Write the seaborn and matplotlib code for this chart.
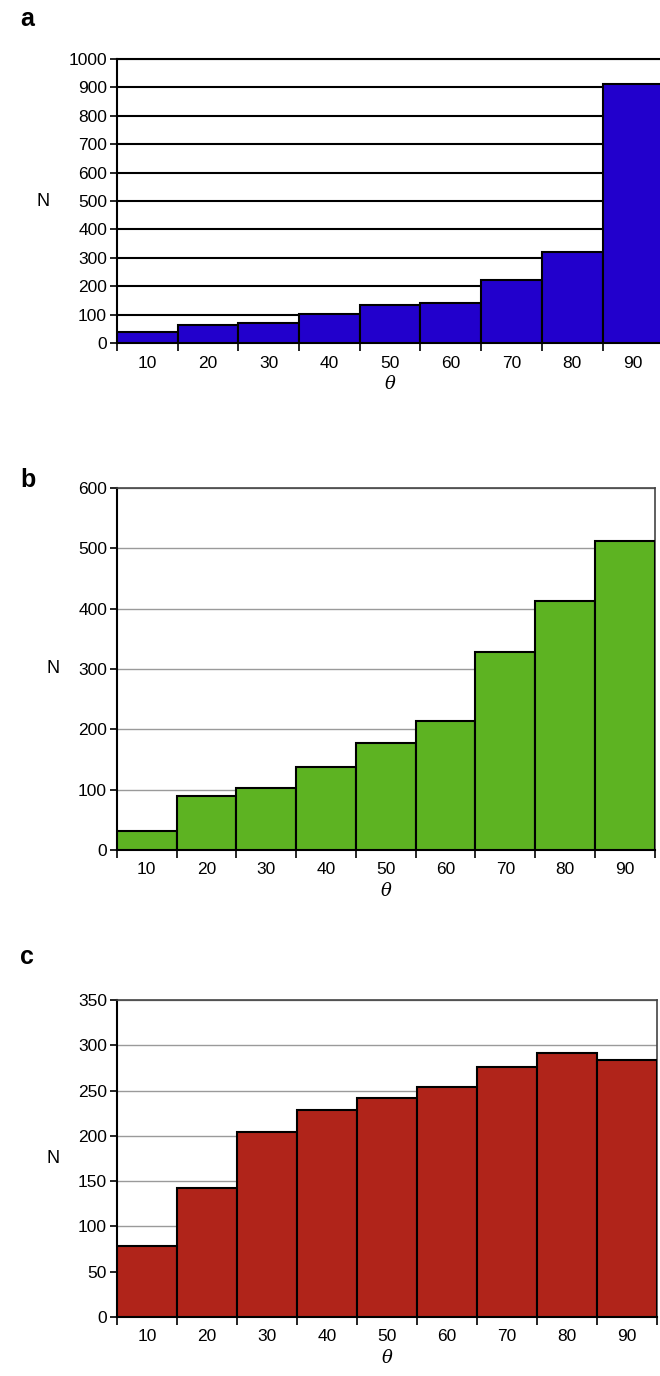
import seaborn as sns
import pandas as pd
import matplotlib.pyplot as plt
from matplotlib.ticker import FixedLocator

theta = ["10", "20", "30", "40", "50", "60", "70", "80", "90"]
n_a = [40, 64, 70, 103, 135, 142, 222, 321, 913]
n_b = [32, 90, 102, 138, 177, 213, 328, 412, 512]
n_c = [78, 142, 204, 229, 242, 254, 276, 291, 284]

sns.set_style("white")
plt.rcParams['font.family'] = ['Liberation Sans', 'DejaVu Sans']
plt.rcParams['text.color'] = 'black'
plt.rcParams['axes.labelcolor'] = 'black'
plt.rcParams['xtick.color'] = 'black'
plt.rcParams['ytick.color'] = 'black'

fig = plt.figure(figsize=(6.6, 13.76), dpi=100)

# panel letter, values, colour, ylim, step, grid colour, axes box, letter y (px)
panels = [
    ("a", n_a, "#2200cc", 1000, 100, "black", [0.177, 0.7507, 0.828, 0.2064], 19),
    ("b", n_b, "#5db322", 600, 100, "#9a9a9a", [0.177, 0.3823, 0.815, 0.2631], 480),
    ("c", n_c, "#b0241a", 350, 50, "#9a9a9a", [0.177, 0.0429, 0.818, 0.2304], 957),
]

for letter, vals, color, ymax, step, gcol, box, ly in panels:
    ax = fig.add_axes(box)
    df = pd.DataFrame({"theta": theta, "N": vals})
    sns.barplot(data=df, x="theta", y="N", color=color, width=1.0,
                edgecolor="black", linewidth=1.5, saturation=1, ax=ax, zorder=3)
    ax.set_xlim(-0.5, 8.5)
    ax.set_ylim(0, ymax)
    ax.set_yticks(range(0, ymax + 1, step))
    ax.yaxis.grid(True, color=gcol, lw=1.5 if letter == "a" else 1.0, zorder=0)
    ax.set_axisbelow(True)
    ax.tick_params(axis="y", left=True, length=5, width=1.2, labelsize=12.5, pad=2)
    ax.tick_params(axis="x", which="major", length=0, labelsize=12.5, pad=9)
    ax.xaxis.set_minor_locator(FixedLocator([i - 0.5 for i in range(10)]))
    ax.tick_params(axis="x", which="minor", bottom=True, length=6, width=1.2)
    for side in ["left", "bottom"]:
        ax.spines[side].set_color("black")
        ax.spines[side].set_linewidth(1.5)
    for side in ["top", "right"]:
        ax.spines[side].set_color("black" if letter == "a" else "#444444")
        ax.spines[side].set_linewidth(1.5 if letter == "a" else 1.2)
    ax.set_ylabel("N", rotation=0, fontsize=13, labelpad=18, va="center")
    ax.set_xlabel("θ", fontsize=13, family="DejaVu Serif", style="italic", labelpad=3)
    fig.text(20 / 660, 1 - ly / 1376, letter, fontsize=18, fontweight="bold",
             va="center", ha="left")

fig.savefig("out.png", dpi=100)
